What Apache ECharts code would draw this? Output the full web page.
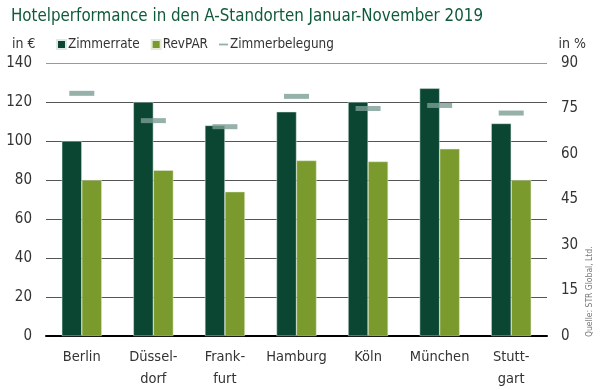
<!DOCTYPE html>
<html><head><meta charset="utf-8">
<script src="https://cdn.jsdelivr.net/npm/echarts@6/dist/echarts.min.js"></script>
<style>html,body{margin:0;padding:0;background:#fff}#c{width:600px;height:390px}</style>
</head><body><div id="c"></div>
<script>
var categories = ['Berlin', 'Düssel-\ndorf', 'Frank-\nfurt', 'Hamburg', 'Köln', 'München', 'Stutt-\ngart'];
var zimmerrate = [100, 120, 108, 115, 120, 127, 109];
var revpar = [80, 85, 74, 90, 89.5, 96, 80];
var zimmerbelegung = [80, 71, 69, 79, 75, 76, 73.5];
var leftTicks = [0, 20, 40, 60, 80, 100, 120, 140];
var rightTicks = [0, 15, 30, 45, 60, 75, 90];

var font = 'DejaVu Sans Condensed';
var chart = echarts.init(document.getElementById('c'));
chart.setOption({
  animation: false,
  textStyle: { fontFamily: font },
  title: [
    { text: 'Hotelperformance in den A-Standorten Januar-November 2019', left: 6, top: 3,
      textStyle: { fontFamily: font, fontSize: 16.8, fontWeight: 'normal', color: '#0f5a3a' } },
    { text: 'in €', left: 7, top: 32, textStyle: { fontFamily: font, fontSize: 14, fontWeight: 'normal', color: '#333' } },
    { text: 'in %', right: 9, top: 32, textStyle: { fontFamily: font, fontSize: 14, fontWeight: 'normal', color: '#333' } }
  ],
  graphic: [{
    type: 'text', x: 590, y: 337, rotation: Math.PI / 2,
    style: { text: 'Quelle: STR Global, Ltd.', fontFamily: font, fontSize: 8.5, fill: '#777', align: 'left', verticalAlign: 'middle' }
  }],
  legend: {
    left: 51, top: 33, itemGap: 11, itemWidth: 9, itemHeight: 9,
    textStyle: { fontFamily: font, fontSize: 13.4, color: '#333', padding: [0, 0, 0, -3] },
    data: [
      { name: 'Zimmerrate', icon: 'rect' },
      { name: 'RevPAR', icon: 'rect' },
      { name: 'Zimmerbelegung', icon: 'path://M0,4 L10,4 L10,6 L0,6 Z', itemStyle: { color: '#7b9e95' } }
    ]
  },
  grid: { left: 46, right: 53, top: 63, bottom: 53 },
  xAxis: {
    type: 'category', data: categories,
    axisLine: { lineStyle: { color: '#000', width: 2 } },
    axisTick: { show: false },
    axisLabel: { interval: 0, fontFamily: font, fontSize: 14.5, color: '#333', lineHeight: 22, margin: 10 }
  },
  yAxis: [
    { type: 'value', min: 0, max: 140, interval: 20,
      axisLine: { show: false }, axisTick: { show: false },
      axisLabel: { fontFamily: font, fontSize: 15, color: '#333', margin: 14 },
      splitLine: { lineStyle: { color: ['#555', '#555', '#555', '#555', '#555', '#555', '#555', '#999'], width: 1 } } },
    { type: 'value', min: 0, max: 90, interval: 15,
      axisLine: { show: false }, axisTick: { show: false },
      axisLabel: { fontFamily: font, fontSize: 15, color: '#333', margin: 14 },
      splitLine: { show: false } }
  ],
  series: [
    { name: 'Zimmerrate', type: 'bar', data: zimmerrate, barWidth: 20, barGap: '0%',
      itemStyle: { color: '#0a4632', borderColor: '#dfe8e2', borderWidth: 0.5 } },
    { name: 'RevPAR', type: 'bar', data: revpar, barWidth: 20,
      itemStyle: { color: '#7a9a2d', borderColor: '#e3ead6', borderWidth: 0.5 } },
    { name: 'Zimmerbelegung', type: 'scatter', yAxisIndex: 1, data: zimmerbelegung,
      symbol: 'rect', symbolSize: [25, 5], itemStyle: { color: '#7b9e95' }, z: 5 }
  ]
});
</script></body></html>
